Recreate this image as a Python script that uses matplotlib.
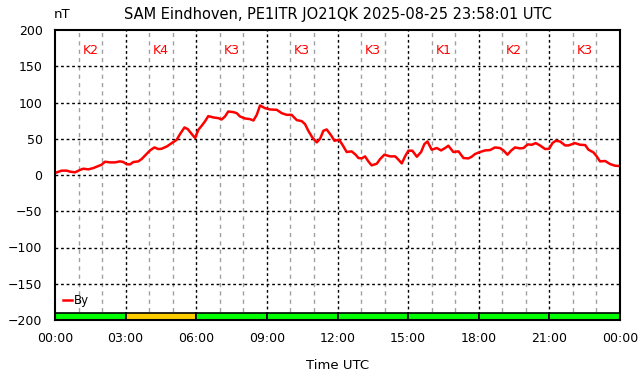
import numpy as np
import matplotlib
matplotlib.use("Agg")
import matplotlib.pyplot as plt

# By component (nT), hours UTC
hours = [0.00, 0.28, 0.50, 0.64, 0.85, 1.06, 1.20, 1.42, 1.63, 1.84, 1.98,
         2.12, 2.34, 2.55, 2.76, 2.90, 3.05, 3.19, 3.33, 3.54, 3.68, 3.82,
         4.04, 4.22, 4.39, 4.53, 4.75, 4.96, 5.17, 5.31, 5.50, 5.64, 5.81,
         5.95, 6.09, 6.23, 6.37, 6.51, 6.73, 6.94, 7.08, 7.22, 7.36, 7.58,
         7.72, 7.86, 8.07, 8.28, 8.43, 8.57, 8.71, 8.92, 9.13, 9.42, 9.63,
         9.84, 10.05, 10.27, 10.48, 10.62, 10.76, 10.93, 11.12, 11.26, 11.40,
         11.54, 11.73, 11.87, 12.07, 12.21, 12.39, 12.60, 12.77, 12.89, 13.03,
         13.17, 13.31, 13.45, 13.67, 13.81, 13.99, 14.23, 14.45, 14.59, 14.73,
         14.87, 15.01, 15.18, 15.37, 15.55, 15.69, 15.82, 16.00, 16.22, 16.40,
         16.57, 16.71, 16.92, 17.14, 17.35, 17.56, 17.70, 17.84, 18.05, 18.27,
         18.48, 18.69, 18.90, 19.05, 19.22, 19.37, 19.54, 19.75, 19.90, 20.08,
         20.25, 20.42, 20.60, 20.82, 20.99, 21.13, 21.27, 21.45, 21.67, 21.81,
         22.09, 22.30, 22.52, 22.66, 22.87, 23.01, 23.15, 23.37, 23.58, 23.79,
         23.97]
by_nt = [2.8, 6.0, 6.0, 4.6, 3.7, 6.9, 8.7, 7.8, 9.6, 12.4, 14.2,
         18.3, 17.4, 17.4, 18.8, 17.9, 14.7, 14.7, 17.9, 18.8, 22.0, 26.6,
         34.0, 38.0, 35.8, 36.2, 39.4, 44.0, 48.6, 56.4, 65.6, 63.3, 56.4,
         51.0, 62.4, 67.9, 73.9, 81.2, 79.4, 78.4, 76.6, 80.7, 87.6, 86.7,
         85.3, 80.7, 78.0, 77.1, 75.2, 83.0, 95.9, 92.2, 90.4, 89.9, 85.3,
         83.0, 83.0, 75.7, 74.3, 70.2, 61.0, 51.8, 45.0, 50.0, 61.0,
         62.8, 54.6, 47.2, 48.6, 41.7, 31.7, 32.6, 28.0, 23.4, 22.9,
         25.7, 18.8, 13.3, 15.6, 22.0, 28.0, 25.7, 25.7, 21.1, 16.0,
         25.7, 33.5, 33.5, 25.2, 31.7, 42.6, 46.3, 34.9, 37.2, 33.9,
         37.2, 40.4, 31.7, 32.6, 23.4, 22.9, 25.2, 28.9, 31.7, 33.9,
         34.4, 38.0, 37.2, 33.9, 28.0, 33.5, 38.0, 36.7, 37.2, 42.2,
         41.7, 44.0, 40.8, 35.8, 36.2, 44.0, 47.2, 46.3, 40.8, 40.8,
         44.0, 41.7, 41.3, 34.9, 31.2, 25.7, 18.8, 19.3, 15.1, 12.8,
         12.4]

# 3-hour K index blocks
k_start = [0, 3, 6, 9, 12, 15, 18, 21]
k_index = [2, 4, 3, 3, 3, 1, 2, 3]

tick_hours = [0, 3, 6, 9, 12, 15, 18, 21, 24]
tick_labels = ["00:00", "03:00", "06:00", "09:00", "12:00", "15:00", "18:00", "21:00", "00:00"]

fig = plt.figure(figsize=(6.42, 3.76), dpi=100)
ax = fig.add_axes([55/642, 56/376, 565/642, 290/376])

ax.set_xlim(0, 24)
ax.set_ylim(-200, 200)

# grid: grey dashed each hour, black dotted each 3h and each 50 nT
for h in range(1, 24):
    if h % 3:
        ax.axvline(h, color="#a0a0a0", lw=1, ls=(0, (3, 3)), zorder=1)
for h in range(3, 24, 3):
    ax.axvline(h, color="black", lw=1, ls=(0, (2, 2)), zorder=1)
for v in range(-150, 200, 50):
    ax.axhline(v, color="black", lw=1, ls=(0, (2, 2)), zorder=1)

# K index bar at bottom
colors = ["#ffcc00" if k >= 4 else "#00ff00" for k in k_index]
ax.bar(k_start, 10, width=3, bottom=-200, align="edge", color=colors,
       edgecolor="black", linewidth=1.2, zorder=3)
for s, k in zip(k_start, k_index):
    ax.text(s + 1.5, 172, "K%d" % k, color="#ff0000", fontsize=9,
            ha="center", va="center", zorder=4)

ax.plot(hours, by_nt, color="#ff0000", lw=1.8, label="By", zorder=5)

ax.set_xticks(tick_hours)
ax.set_xticklabels(tick_labels)
ax.set_yticks(range(-200, 201, 50))
ax.tick_params(length=0, labelsize=9, pad=9)
for sp in ax.spines.values():
    sp.set_linewidth(1.5)
    sp.set_zorder(6)

ax.set_xlabel("Time UTC", fontsize=9.5, labelpad=10)
ax.set_title("SAM Eindhoven, PE1ITR JO21QK 2025-08-25 23:58:01 UTC",
             fontsize=10.5, pad=8)
fig.text(62/642, 1 - 15/376, "nT", fontsize=9.5, ha="center", va="center")

ax.legend(loc="lower left", bbox_to_anchor=(0.015, 0.045), frameon=False,
          handlelength=0.7, handletextpad=0.15, fontsize=8.5,
          borderpad=0, borderaxespad=0)

fig.savefig("out.png", dpi=100)
